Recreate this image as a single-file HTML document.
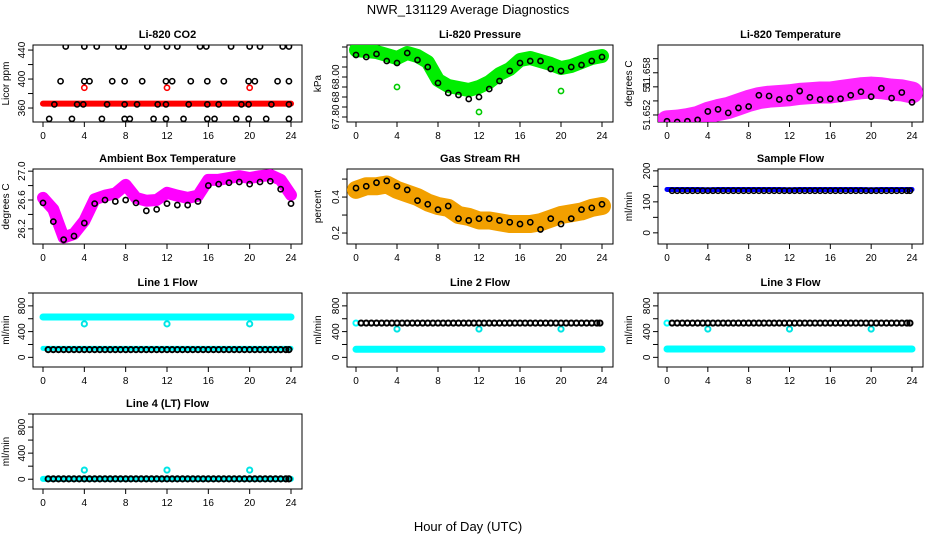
<!DOCTYPE html>
<html><head><meta charset="utf-8"><style>
body{margin:0;background:#fff;}
svg{display:block;font-family:"Liberation Sans",Arial,sans-serif;}
</style></head><body>
<svg id="chart" width="936" height="540" viewBox="0 0 936 540">
<text x="468" y="14" text-anchor="middle" font-size="13">NWR_131129  Average Diagnostics</text>
<text x="468" y="531" text-anchor="middle" font-size="13">Hour of Day (UTC)</text>
</svg>
<script>
const hourly=[0,1,2,3,4,5,6,7,8,9,10,11,12,13,14,15,16,17,18,19,20,21,22,23,24];
const xTicks=[0,4,8,12,16,20,24];
const halfHours=[0.5,1,1.5,2,2.5,3,3.5,4,4.5,5,5.5,6,6.5,7,7.5,8,8.5,9,9.5,10,10.5,11,11.5,12,12.5,13,13.5,14,14.5,15,15.5,16,16.5,17,17.5,18,18.5,19,19.5,20,20.5,21,21.5,22,22.5,23,23.5,23.8];
const outlierHours=[4,12,20];

// CO2
const co2Hours=[2.2,4,5.2,7.3,7.8,10.1,12,13,15.2,15.8,18.2,20,21,23.2,23.8, 1.7,4,4.5,6.7,7.9,9.6,11.9,12.5,14.3,15.9,17.5,19.9,20.5,22.7,23.8, 1.1,3.3,3.9,6.2,7.9,9.1,11.1,11.9,14.1,15.9,17,19.2,19.9,22.1,23.8, 0.6,2.8,5.7,7.9,8.4,10.7,11.9,13.6,15.9,16.6,18.7,19.9,21.6,23.8];
const co2Values=[445,445,445,445,445,445,445,445,445,445,445,445,445,445,445, 397,397,397,397,397,397,397,397,397,397,397,397,397,397,397, 365,365,365,365,365,365,365,365,365,365,365,365,365,365,365, 345,345,345,345,345,345,345,345,345,345,345,345,345,345];
const co2Band=[366,366,366,366,366,366,366,366,366,366,366,366,366,366,366,366,366,366,366,366,366,366,366,366,366];
const co2Outliers=[388,388,388];

// Pressure
const presBand=[68.085,68.08,68.075,68.06,68.045,68.07,68.055,68.025,67.935,67.905,67.895,67.885,67.90,67.925,67.965,67.99,68.035,68.045,68.03,68.015,67.995,68.005,68.025,68.045,68.055];
const presBlack=[68.06,68.05,68.065,68.03,68.02,68.07,68.035,68.0,67.92,67.87,67.86,67.84,67.85,67.89,67.93,67.98,68.02,68.03,68.03,67.99,67.98,68.0,68.01,68.03,68.05];
const presOutliers=[67.90,67.775,67.88];
const presTicks=[67.75,67.80,67.85,67.90,67.95,68.00,68.05,68.10];

// Li-820 temperature
const ltBand=[51.6491,51.6492,51.6494,51.6497,51.6503,51.6507,51.6510,51.6515,51.6520,51.6524,51.6526,51.6527,51.6528,51.6530,51.6531,51.6532,51.6532,51.6534,51.6536,51.6538,51.6539,51.6538,51.6536,51.6535,51.6532];
const ltBlack=[51.6491,51.6490,51.6491,51.6493,51.6505,51.6508,51.6503,51.6510,51.6512,51.6528,51.6527,51.6522,51.6524,51.6534,51.6525,51.6522,51.6523,51.6523,51.6528,51.6533,51.6526,51.6538,51.6524,51.6532,51.6518];

// Ambient box temperature
const abBand=[26.63,26.47,26.08,26.13,26.31,26.61,26.66,26.69,26.81,26.63,26.59,26.6,26.70,26.66,26.63,26.66,26.88,26.88,26.905,26.93,26.905,26.93,26.945,26.88,26.67];
const abBlack=[26.56,26.3,26.05,26.1,26.28,26.55,26.6,26.58,26.6,26.56,26.45,26.47,26.55,26.53,26.53,26.58,26.8,26.82,26.84,26.85,26.82,26.85,26.86,26.75,26.55];

// Gas stream RH
const rhBand=[0.44,0.46,0.46,0.47,0.44,0.42,0.40,0.37,0.35,0.34,0.30,0.29,0.27,0.27,0.26,0.25,0.25,0.25,0.26,0.28,0.30,0.31,0.32,0.34,0.35];
const rhBlack=[0.45,0.46,0.48,0.49,0.46,0.44,0.38,0.36,0.33,0.35,0.28,0.27,0.28,0.28,0.27,0.26,0.25,0.26,0.22,0.28,0.25,0.28,0.33,0.34,0.36];

// Flows
const sfBand=[140,140,140,140,139,140,140,140,140,140,140,140,139,140,140,140,140,140,140,140,139,140,140,140,140];
const sfBlack=[136,136,136,136,136,136,136,136,136,136,136,136,136,136,136,136,136,136,136,136,136,136,136,136,136];
const l1High=[627,627,627,627,627,627,627,627,627,627,627,627,627,627,627,627,627,627,627,627,627,627,627,627,627];
const l1Low=[140,140,140,140,140,140,140,140,140,140,140,140,140,140,140,140,140,140,140,140,140,140,140,140,140];
const l1Black=120, l1Out=[520,520,520];
const l2Cyan=[125,125,125,125,125,125,125,125,125,125,125,125,125,125,125,125,125,125,125,125,125,125,125,125,125];
const l2Black=533, l2Out=[440,440,440];
const l3Cyan=[130,130,130,130,130,130,130,130,130,130,130,130,130,130,130,130,130,130,130,130,130,130,130,130,130];
const l3Black=533, l3Out=[440,440,440];
const l4Cyan=[5,5,5,5,5,5,5,5,5,5,5,5,5,5,5,5,5,5,5,5,5,5,5,5,5];
const l4Black=5, l4Out=[140,140,140];

const cols=[{l:33,r:302,x0:43,x1:291,lab:9},{l:347,r:613,x0:356,x1:602,lab:321},{l:658,r:923,x0:667,x1:912,lab:632}];
const rows=[{t:45,b:122},{t:169,b:244},{t:293,b:367},{t:414,b:489}];
const svg=document.getElementById('chart');
const NS='http://www.w3.org/2000/svg';
function mk(tag,attrs,parent){const e=document.createElementNS(NS,tag);for(const k in attrs)e.setAttribute(k,attrs[k]);(parent||svg).appendChild(e);return e;}

function panel(id,title,ylab,col,row,ymin,ymax,ticks,labels){
  const c=cols[col],r=rows[row];
  const g=mk('g',{});
  
  
  const p={g,sx:h=>c.x0+(c.x1-c.x0)*h/24,sy:v=>r.b-(v-ymin)/(ymax-ymin)*(r.b-r.t)};
  const rect=mk('rect',{x:c.l,y:r.t,width:c.r-c.l,height:r.b-r.t,fill:'none',stroke:'#000','stroke-width':1},g);
  
  
  const t=mk('text',{x:(c.l+c.r)/2,y:r.t-7,'text-anchor':'middle','font-size':11,'font-weight':'bold'},g);
  t.textContent=title;
  
  
  const yl=mk('text',{transform:`translate(${c.lab},${(r.t+r.b)/2}) rotate(-90)`,'text-anchor':'middle','font-size':10},g);
  yl.textContent=ylab;
  
  
  xTicks.forEach(h=>{const x=p.sx(h);mk('line',{x1:x,x2:x,y1:r.b,y2:r.b+5,stroke:'#000'},g);
    const tx=mk('text',{x:x,y:r.b+17,'text-anchor':'middle','font-size':10},g);tx.textContent=h;
    
    });
  ticks.forEach(v=>{const y=p.sy(v);mk('line',{x1:c.l,x2:c.l-5,y1:y,y2:y,stroke:'#000'},g);});
  labels.forEach(([v,s])=>{const y=p.sy(v);const tx=mk('text',{transform:`translate(${c.l-8},${y}) rotate(-90)`,'text-anchor':'middle','font-size':10},g);tx.textContent=s;
    
    });
  const cp=mk('clipPath',{id:'clip-'+id},g);mk('rect',{x:c.l,y:r.t,width:c.r-c.l,height:r.b-r.t},cp);
  p.d=mk('g',{'clip-path':`url(#clip-${id})`},g);
  return p;
}
function band(p,hours,vals,color,w,name,op){
  const pts=hours.map((h,i)=>p.sx(h)+','+p.sy(vals[i])).join(' ');
  const e=mk('polyline',{points:pts,fill:'none',stroke:color,'stroke-width':w,'stroke-linejoin':'round','stroke-linecap':'round','stroke-opacity':op||1},p.d);
  
  
}
function dots(p,hours,vals,color,name,sw){
  hours.forEach((h,i)=>{const v=Array.isArray(vals)?vals[i]:vals;
    const e=mk('circle',{cx:p.sx(h),cy:p.sy(v),r:2.6,fill:'none',stroke:color,'stroke-width':sw||1.6},p.d);
    
    });
}

// Row 1
let p=panel('co2','Li-820 CO2','Licor ppm',0,0,340.7,447,[360,380,400,420,440],[[360,'360'],[400,'400'],[440,'440']]);
band(p,hourly,co2Band,'#ff0000',6,'co2-red-band');
dots(p,outlierHours,co2Outliers,'#ff0000','co2-outlier');
dots(p,co2Hours,co2Values,'#000','co2-point');

p=panel('pressure','Li-820 Pressure','kPa',1,0,67.725,68.11,presTicks,[[67.75,'67.80'],[67.85,'68'],[67.95,'68.00']]);
band(p,hourly,presBand,'#00ee00',14,'pressure-green-band');
dots(p,outlierHours,presOutliers,'#00cc00','pressure-outlier');
dots(p,hourly,presBlack,'#000','pressure-point');

p=panel('li-temp','Li-820 Temperature','degrees C',2,0,51.6490,51.65995,[51.650,51.652,51.654,51.656,51.658],[[51.650,'51.652'],[51.654,'51'],[51.656,'51.658']]);
band(p,hourly,ltBand,'#ff00ff',22,'li-temp-magenta-band',0.85);
dots(p,hourly,ltBlack,'#000','li-temp-point');

// Row 2
p=panel('ambient','Ambient Box Temperature','degrees C',0,1,25.99,27.03,[26.2,26.4,26.6,26.8,27.0],[[26.2,'26.2'],[26.6,'26.6'],[27.0,'27.0']]);
band(p,hourly,abBand,'#ff00ff',12,'ambient-magenta-band');
dots(p,hourly,abBlack,'#000','ambient-point');

p=panel('rh','Gas Stream RH','percent',1,1,0.139,0.556,[0.2,0.3,0.4,0.5],[[0.2,'0.2'],[0.4,'0.4']]);
band(p,hourly,rhBand,'#f2a000',18,'rh-orange-band');
dots(p,hourly,rhBlack,'#000','rh-point');

p=panel('sample-flow','Sample Flow','ml/min',2,1,-36,206,[0,50,100,150,200],[[0,'0'],[100,'100'],[200,'200']]);
band(p,hourly,sfBand,'#0000ff',5,'sample-flow-blue-band');
dots(p,halfHours,sfBlack[0],'#000','sample-flow-point');

// Row 3-4
const fT=[0,200,400,600,800,1000], fL=[[0,'0'],[400,'400'],[800,'800']];
p=panel('line1','Line 1 Flow','ml/min',0,2,-150,1000,fT,fL);
band(p,hourly,l1High,'#00ffff',7,'line1-cyan-high');
band(p,hourly,l1Low,'#00ffff',5,'line1-cyan-low');
dots(p,outlierHours,l1Out,'#00e5e5','line1-outlier',2);
dots(p,halfHours,l1Black,'#000','line1-point',2);

p=panel('line2','Line 2 Flow','ml/min',1,2,-150,1000,fT,fL);
band(p,hourly,l2Cyan,'#00ffff',7,'line2-cyan-band');
dots(p,outlierHours,l2Out,'#00e5e5','line2-outlier',2);
dots(p,[0],533,'#00ffff','line2-start',2);
dots(p,halfHours,l2Black,'#000','line2-point',2);

p=panel('line3','Line 3 Flow','ml/min',2,2,-150,1000,fT,fL);
band(p,hourly,l3Cyan,'#00ffff',7,'line3-cyan-band');
dots(p,outlierHours,l3Out,'#00e5e5','line3-outlier',2);
dots(p,[0],533,'#00ffff','line3-start',2);
dots(p,halfHours,l3Black,'#000','line3-point',2);

p=panel('line4','Line 4 (LT) Flow','ml/min',0,3,-150,1000,fT,fL);
band(p,hourly,l4Cyan,'#00ffff',6,'line4-cyan-band');
dots(p,outlierHours,l4Out,'#00e5e5','line4-outlier',2);
dots(p,halfHours,l4Black,'#000','line4-point',2);
</script>
</body></html>
